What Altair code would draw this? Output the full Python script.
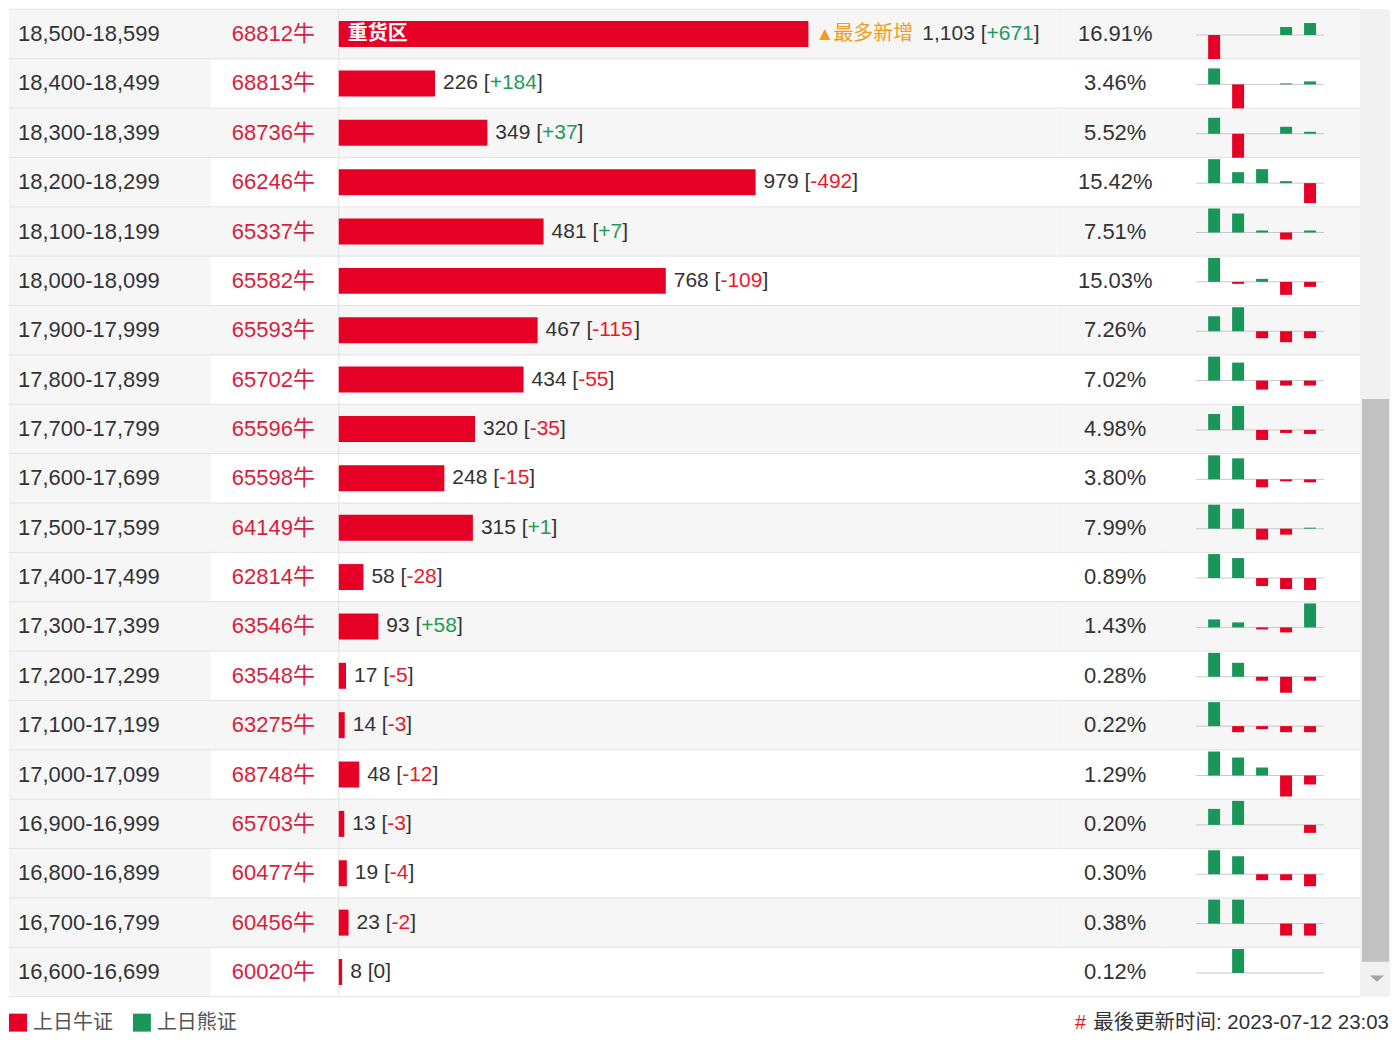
import altair as alt
import pandas as pd

# ---------------- data ----------------
ranges = ["18,500-18,599", "18,400-18,499", "18,300-18,399", "18,200-18,299",
          "18,100-18,199", "18,000-18,099", "17,900-17,999", "17,800-17,899",
          "17,700-17,799", "17,600-17,699", "17,500-17,599", "17,400-17,499",
          "17,300-17,399", "17,200-17,299", "17,100-17,199", "17,000-17,099",
          "16,900-16,999", "16,800-16,899", "16,700-16,799", "16,600-16,699"]
codes = ["68812", "68813", "68736", "66246", "65337", "65582", "65593", "65702",
         "65596", "65598", "64149", "62814", "63546", "63548", "63275", "68748",
         "65703", "60477", "60456", "60020"]
code_suffix = "牛"
volumes = [1103, 226, 349, 979, 481, 768, 467, 434, 320, 248, 315, 58, 93, 17, 14,
           48, 13, 19, 23, 8]
changes = [671, 184, 37, -492, 7, -109, -115, -55, -35, -15, 1, -28, 58, -5, -3,
           -12, -3, -4, -2, 0]
shares = [16.91, 3.46, 5.52, 15.42, 7.51, 15.03, 7.26, 7.02, 4.98, 3.80, 7.99,
          0.89, 1.43, 0.28, 0.22, 1.29, 0.20, 0.30, 0.38, 0.12]
history = [
    [-24, 0, 0, 8, 12],
    [16, -24, 0, 1, 3],
    [16, -24, 0, 7, 2],
    [24, 11, 14, 2, -20],
    [24, 19, 2, -7, 2],
    [24, -2, 3, -13, -5],
    [15, 24, -7, -11, -7],
    [24, 18, -9, -5, -5],
    [16, 24, -10, -3, -4],
    [24, 21, -8, -2, -3],
    [24, 20, -11, -6, 1],
    [24, 20, -8, -11, -12],
    [8, 5, -2, -5, 24],
    [24, 14, -4, -16, -4],
    [24, -6, -3, -6, -6],
    [24, 18, 8, -21, -9],
    [16, 24, 0, 0, -8],
    [24, 18, -6, -6, -12],
    [24, 24, 0, -12, -12],
    [0, 24, 0, 0, 0],
]
legend_labels = ["上日牛证", "上日熊证"]
heavy_label = "重货区"
top_new_label = "最多新增"
updated = "最後更新时间: 2023-07-12 23:03"

# ---------------- style / layout ----------------
FONT = "Liberation Sans, Noto Sans CJK SC, sans-serif"
RED = "#e60026"
CODE_RED = "#d81e3c"
GREEN = "#1a965a"
GREEN_T = "#239b56"
RED_T = "#e8192c"
DARK = "#333333"
ORANGE = "#f29b1d"
STRIPE = "#f6f6f6"
LINE = "#e3e3e3"
BASE = "#c8c8c8"
legend_colors = [RED, GREEN]

N = len(ranges)
ROW = 49.4
H = round(N * ROW)
WA, WB, WC, WD, WE, WF = 202, 128, 718, 110, 194, 30
TOTAL_W = WA + WB + WC + WD + WE + WF
K = 470 / 1103          # px per unit of volume
XMAX = WC / K
BH = 13 / ROW
BOFF = 0.02
E_OFF = 48              # centre of first mini slot within panel E
E_STEP = 24

ADV = {",": 0.278, " ": 0.278, "[": 0.278, "]": 0.278, "+": 0.584, "-": 0.333,
       ".": 0.278, ":": 0.278, "#": 0.556}


def text_w(s, size):
    tot = 0.0
    for ch in s:
        if ch.isdigit():
            tot += 0.556
        elif ch in ADV:
            tot += ADV[ch]
        else:
            tot += 1.0
    return tot * size


heavy_i = volumes.index(max(volumes))
new_i = changes.index(max(changes))
top_lead = 8 + 17 + text_w(top_new_label, 20) + 9

rows = []
for i in range(N):
    c = changes[i]
    chg = f"+{c}" if c > 0 else str(c)
    col = GREEN_T if c > 0 else (RED_T if c < 0 else DARK)
    pre = f"{volumes[i]:,} ["
    lead = top_lead if i == new_i else 8
    rows.append(dict(idx=i, rng=ranges[i], code=codes[i] + code_suffix,
                     value=volumes[i], share=f"{shares[i]:.2f}%", pre=pre,
                     chg=chg, chg_hex=col, lead=lead,
                     pre_w=text_w(pre, 21), chg_w=text_w(chg, 21)))
rows_df = pd.DataFrame(rows)
bounds_df = pd.DataFrame({"b": list(range(N + 1))})

mini = []
for i, hv in enumerate(history):
    for s, v in enumerate(hv, start=1):
        mini.append(dict(idx=i, slot=s, v=v,
                         hex=legend_colors[0] if v < 0 else legend_colors[1]))
mini_df = pd.DataFrame(mini)
one = pd.DataFrame({"k": [0]})

y_scale = alt.Scale(domain=[0, N], reverse=True, nice=False, zero=False)


def Y(f):
    return alt.Y(f, scale=y_scale, axis=None)


def background(width, all_gray=False):
    c = alt.Chart(rows_df).transform_calculate(y0="datum.idx", y1="datum.idx + 1")
    if not all_gray:
        c = c.transform_filter("datum.idx % 2 == 0")
    rect = c.mark_rect(color=STRIPE).encode(
        x=alt.value(0), x2=alt.value(width), y=Y("y0:Q"), y2="y1:Q")
    lines = alt.Chart(bounds_df).mark_rule(color=LINE, strokeWidth=1).encode(
        x=alt.value(0), x2=alt.value(width), y=Y("b:Q"))
    return [rect, lines]


centered = alt.Chart(rows_df).transform_calculate(yc="datum.idx + 0.5")

# Panel A: ranges
txt_a = centered.mark_text(align="left", baseline="middle", font=FONT, fontSize=22,
                           color=DARK).encode(x=alt.value(9), y=Y("yc:Q"), text="rng:N")
panel_a = alt.layer(*background(WA, True), txt_a).properties(width=WA, height=H)

# Panel B: codes
txt_b = centered.mark_text(align="left", baseline="middle", font=FONT, fontSize=22,
                           color=CODE_RED).encode(x=alt.value(21), y=Y("yc:Q"), text="code:N")
panel_b = alt.layer(*background(WB), txt_b).properties(width=WB, height=H)

# Panel C: bars
xs_c = alt.Scale(domain=[0, XMAX], nice=False, zero=False)
vline = alt.Chart(bounds_df).transform_filter("datum.b == 0").mark_rule(color=LINE).encode(
    x=alt.value(0), y=alt.value(0), y2=alt.value(H))
bars = alt.Chart(rows_df).transform_calculate(
    x0="0", yt=f"datum.idx + 0.5 - {BH}", yb=f"datum.idx + 0.5 + {BH}"
).mark_rect(color=RED).encode(
    x=alt.X("x0:Q", scale=xs_c, axis=None), x2="value:Q", y=Y("yt:Q"), y2="yb:Q")
heavy = centered.transform_filter(f"datum.idx == {heavy_i}").transform_calculate(
    xh=f"9 / {K}").mark_text(align="left", baseline="middle", font=FONT, fontSize=20,
                            fontWeight="bold", color="white", text=heavy_label).encode(
    x=alt.X("xh:Q", scale=xs_c, axis=None), y=Y("yc:Q"))
tri = centered.transform_filter(f"datum.idx == {new_i}").transform_calculate(
    xt=f"datum.value + 7 / {K}").mark_text(align="left", baseline="middle", font=FONT,
                                          fontSize=19, color=ORANGE, text="▲").encode(
    x=alt.X("xt:Q", scale=xs_c, axis=None), y=Y("yc:Q"))
newlab = centered.transform_filter(f"datum.idx == {new_i}").transform_calculate(
    xn=f"datum.value + 25 / {K}").mark_text(align="left", baseline="middle", font=FONT,
                                           fontSize=20, color=ORANGE, text=top_new_label).encode(
    x=alt.X("xn:Q", scale=xs_c, axis=None), y=Y("yc:Q"))
pre_t = centered.transform_calculate(xp=f"datum.value + datum.lead / {K}").mark_text(
    align="left", baseline="middle", font=FONT, fontSize=21, color=DARK).encode(
    x=alt.X("xp:Q", scale=xs_c, axis=None), y=Y("yc:Q"), text="pre:N")
chg_t = centered.transform_calculate(
    xc=f"datum.value + (datum.lead + datum.pre_w) / {K}").mark_text(
    align="left", baseline="middle", font=FONT, fontSize=21).encode(
    x=alt.X("xc:Q", scale=xs_c, axis=None), y=Y("yc:Q"), text="chg:N",
    color=alt.Color("chg_hex:N", scale=None))
suf_t = centered.transform_calculate(
    xs=f"datum.value + (datum.lead + datum.pre_w + datum.chg_w) / {K}").mark_text(
    align="left", baseline="middle", font=FONT, fontSize=21, color=DARK, text="]").encode(
    x=alt.X("xs:Q", scale=xs_c, axis=None), y=Y("yc:Q"))
panel_c = alt.layer(*background(WC), vline, bars, heavy, tri, newlab, pre_t, chg_t,
                    suf_t).properties(width=WC, height=H)

# Panel D: shares
txt_d = centered.mark_text(align="center", baseline="middle", font=FONT, fontSize=22,
                           color=DARK).encode(x=alt.value(59), y=Y("yc:Q"), text="share:N")
panel_d = alt.layer(*background(WD), txt_d).properties(width=WD, height=H)

# Panel E: mini history bars
xs_e = alt.Scale(domain=[1 - E_OFF / E_STEP, 1 + (WE - E_OFF) / E_STEP], nice=False, zero=False)
baseline = alt.Chart(rows_df).transform_calculate(yb=f"datum.idx + 0.5 + {BOFF}").mark_rule(
    color=BASE, strokeWidth=1).encode(x=alt.value(E_OFF - 18), x2=alt.value(E_OFF + 110),
                                      y=Y("yb:Q"))
mbars = alt.Chart(mini_df).transform_filter("datum.v != 0").transform_calculate(
    x0="datum.slot - 0.25", x1="datum.slot + 0.25",
    yb=f"datum.idx + 0.5 + {BOFF}", yt=f"datum.idx + 0.5 + {BOFF} - datum.v / {ROW}"
).mark_rect().encode(
    x=alt.X("x0:Q", scale=xs_e, axis=None), x2="x1:Q", y=Y("yt:Q"), y2="yb:Q",
    color=alt.Color("hex:N", scale=None))
panel_e = alt.layer(*background(WE), baseline, mbars).properties(width=WE, height=H)

# Panel F: scrollbar
track = alt.Chart(one).mark_rect(color="#f1f1f1").encode(
    x=alt.value(0), x2=alt.value(WF), y=alt.value(0), y2=alt.value(H))
thumb = alt.Chart(one).mark_rect(color="#c1c1c1").encode(
    x=alt.value(2), x2=alt.value(WF - 1), y=alt.value(round(7.9 * ROW)),
    y2=alt.value(round(19.3 * ROW)))
arrow = alt.Chart(one).mark_point(shape="M-1,-0.45L1,-0.45L0,0.45Z", filled=True,
                                  color="#a3a3a3", size=200, opacity=1).encode(
    x=alt.value(17), y=alt.value(round(19.64 * ROW)))
panel_f = alt.layer(track, thumb, arrow).properties(width=WF, height=H)

# Footer: legend + update time
leg_rows = []
x0 = 0.0
for lab, col in zip(legend_labels, legend_colors):
    leg_rows.append(dict(label=lab, hex=col, sq=x0 + 9, tx=x0 + 24))
    x0 += 24 + text_w(lab, 20) + 20
leg_df = pd.DataFrame(leg_rows)
xs_f = alt.Scale(domain=[0, TOTAL_W], nice=False, zero=False)
FY = 25
sq = alt.Chart(leg_df).mark_square(size=324, opacity=1).encode(
    x=alt.X("sq:Q", scale=xs_f, axis=None), y=alt.value(FY),
    color=alt.Color("hex:N", scale=None))
lt = alt.Chart(leg_df).mark_text(align="left", baseline="middle", fontSize=20, font=FONT,
                                 color="#555555").encode(
    x=alt.X("tx:Q", scale=xs_f, axis=None), y=alt.value(FY), text="label:N")
upd = alt.Chart(one).mark_text(align="right", baseline="middle", fontSize=20.5, font=FONT,
                               color=DARK, text=updated).encode(
    x=alt.value(TOTAL_W - 1), y=alt.value(FY))
hashm = alt.Chart(one).mark_text(align="right", baseline="middle", fontSize=20, font=FONT,
                                 color=RED_T, text="#").encode(
    x=alt.value(TOTAL_W - 1 - text_w(updated, 20.5) - 7), y=alt.value(FY))
footer = alt.layer(sq, lt, upd, hashm).properties(width=TOTAL_W, height=34)

top = alt.hconcat(panel_a, panel_b, panel_c, panel_d, panel_e, panel_f,
                  spacing=0, bounds="flush")
chart = alt.vconcat(top, footer, spacing=0).properties(
    padding=0, background="white"
).configure_view(stroke=None)

chart.save("out.html", embed_options={"renderer": "svg", "actions": False})
